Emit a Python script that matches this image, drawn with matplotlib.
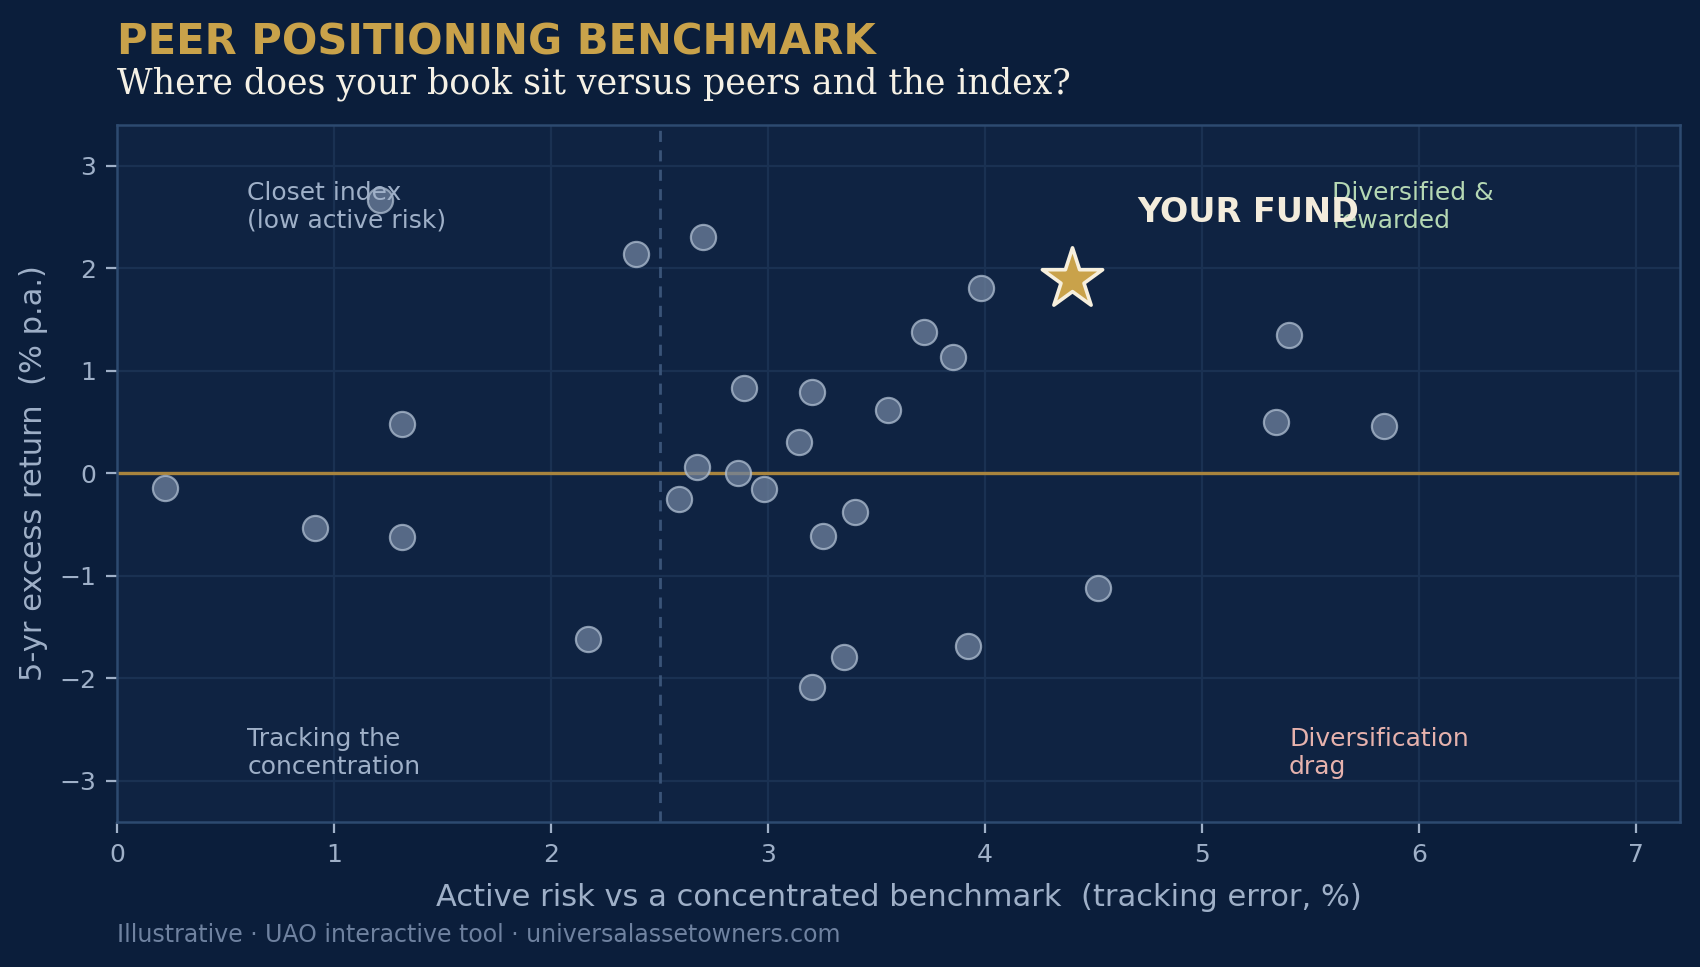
import matplotlib.pyplot as plt
import numpy as np

# peers: tracking error (%) and 5-yr excess return (% p.a.)
peer_te = [0.22, 0.91, 1.21, 1.31, 1.31, 2.17, 2.39, 2.59, 2.67, 2.70,
           2.86, 2.89, 2.98, 3.14, 3.20, 3.20, 3.25, 3.35, 3.40, 3.55,
           3.72, 3.85, 3.92, 3.98, 4.52, 5.34, 5.40, 5.84]
peer_ret = [-0.14, -0.53, 2.67, 0.48, -0.62, -1.62, 2.14, -0.25, 0.06, 2.31,
            0.00, 0.83, -0.15, 0.31, 0.79, -2.08, -0.61, -1.79, -0.38, 0.62,
            1.38, 1.13, -1.68, 1.81, -1.12, 0.50, 1.35, 0.46]

fund_te = 4.4
fund_ret = 1.9
te_threshold = 2.5

quadrant_labels = ["Closet index\n(low active risk)", "Diversified &\nrewarded",
                   "Tracking the\nconcentration", "Diversification\ndrag"]

BG = "#0b1e3b"
AX_BG = "#0f2342"
GOLD = "#c9a24a"
MUTED = "#9fb0c8"

fig = plt.figure(figsize=(8.5, 4.835), dpi=200, facecolor=BG)
ax = fig.add_axes([0.069, 0.150, 0.919, 0.721])
ax.set_facecolor(AX_BG)

ax.grid(True, color="#1a3152", linewidth=0.8, zorder=0)
ax.set_axisbelow(True)
ax.axvline(te_threshold, color="#3a5478", linestyle=(0, (4, 3)), linewidth=1.0, zorder=2)
ax.axhline(0, color="#a8843e", linewidth=1.2, zorder=2)

ax.scatter(peer_te, peer_ret, s=82, color="#6f829e", alpha=0.75,
           edgecolor="#b0bfd2", linewidth=0.8, zorder=3)
ax.scatter([fund_te], [fund_ret], s=520, marker="*", color=GOLD,
           edgecolor="#f6efdd", linewidth=1.3, zorder=4)
ax.text(fund_te + 0.3, fund_ret + 0.64, "YOUR FUND", color="#f3ecdc",
        fontsize=12, fontweight="bold", va="center", ha="left", zorder=5)

ax.text(0.6, 2.85, quadrant_labels[0], color=MUTED, fontsize=9, va="top", ha="left")
ax.text(5.6, 2.85, quadrant_labels[1], color="#b5d8b4", fontsize=9, va="top", ha="left")
ax.text(0.6, -2.98, quadrant_labels[2], color=MUTED, fontsize=9, va="bottom", ha="left")
ax.text(5.4, -2.98, quadrant_labels[3], color="#e6b2ad", fontsize=9, va="bottom", ha="left")

ax.set_xlim(0, 7.2)
ax.set_ylim(-3.4, 3.4)
ax.set_xticks(range(0, 8))
ax.set_yticks(range(-3, 4))
ax.tick_params(colors=MUTED, labelsize=9, length=4, width=0.8)
for sp in ax.spines.values():
    sp.set_color("#2d4a70")
    sp.set_linewidth(0.9)

ax.set_xlabel("Active risk vs a concentrated benchmark  (tracking error, %)",
              color=MUTED, fontsize=11, labelpad=6)
ax.set_ylabel("5-yr excess return  (% p.a.)", color=MUTED, fontsize=11, labelpad=4)

fig.text(0.069, 0.956, "PEER POSITIONING BENCHMARK", color=GOLD,
         fontsize=15, fontweight="bold", va="center", ha="left")
fig.text(0.069, 0.913, "Where does your book sit versus peers and the index?",
         color="#f5f1e6", fontsize=12.5, family="DejaVu Serif", va="center", ha="left")
fig.text(0.069, 0.033, "Illustrative \u00b7 UAO interactive tool \u00b7 universalassetowners.com",
         color="#6f82a0", fontsize=8.5, va="center", ha="left")

fig.savefig("out.png", dpi=200, facecolor=BG)
